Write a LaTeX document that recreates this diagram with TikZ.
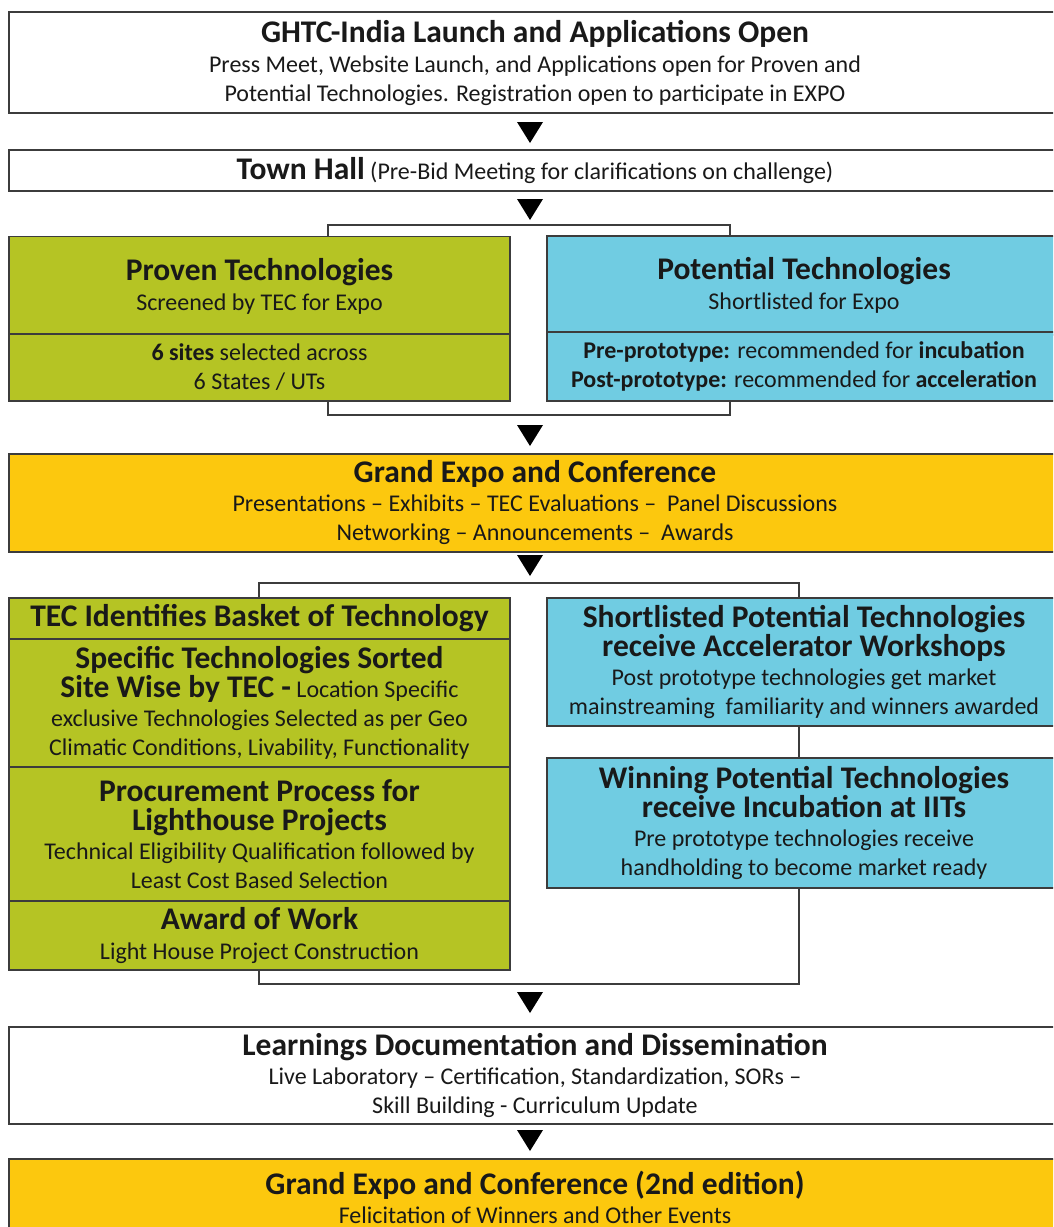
\documentclass[tikz,border=0pt]{standalone}
\usepackage{fontspec}
\setmainfont{Carlito}
\usetikzlibrary{positioning}

\definecolor{techgreen}{HTML}{B5C424}
\definecolor{techblue}{HTML}{70CCE2}
\definecolor{expogold}{HTML}{FCC80E}
\definecolor{edgegray}{HTML}{3C3C3C}

\newcommand{\headtext}[1]{{\fontsize{31.5}{29}\selectfont\bfseries #1}}
\newcommand{\bodysize}{\fontsize{24}{29}\selectfont}

\begin{document}
\begin{tikzpicture}[x=1pt, y=-1pt,
  stage/.style={draw=edgegray, line width=1.4pt, align=center, inner sep=0pt,
    font=\bodysize, text=black!90},
  wide/.style={stage, minimum width=1052pt},
  leftcol/.style={stage, fill=techgreen, minimum width=501pt},
  rightcol/.style={stage, fill=techblue, minimum width=514pt},
  bracket/.style={draw=edgegray, line width=1.2pt}]
 \useasboundingbox (0,0) rectangle (1053,1227);
 \clip (0,0) rectangle (1053,1227);

 % brackets behind the two columns
 \draw[bracket] (328,225) rectangle (730,415);
 \draw[bracket] (259,583) rectangle (799,984);

 % launch and town hall
 \node[wide, fill=white, minimum height=101pt] (launch) at (535,62.5)
  {\headtext{GHTC-India Launch and Applications Open}\\[1pt]
   Press Meet, Website Launch, and Applications open for Proven and\\
   Potential Technologies. Registration open to participate in EXPO};
 \node[wide, fill=white, minimum height=41pt] (townhall) at (535,170.5)
  {\headtext{Town Hall} (Pre-Bid Meeting for clarifications on challenge)};

 % first split
 \node[leftcol, minimum height=100pt] (proven) at (259.5,286.5)
  {\headtext{Proven Technologies}\\[1pt] Screened by TEC for Expo};
 \node[leftcol, minimum height=67pt] (sites) at (259.5,367.5)
  {\textbf{6 sites} selected across\\ 6 States / UTs};
 \node[rightcol, minimum height=99pt] (potential) at (804,285.5)
  {\headtext{Potential Technologies}\\[1pt] Shortlisted for Expo};
 \node[rightcol, minimum height=69pt] (stages) at (804,366.5)
  {\textbf{Pre-prototype:} recommended for \textbf{incubation}\\
   \textbf{Post-prototype:} recommended for \textbf{acceleration}};

 \node[wide, fill=expogold, minimum height=98pt] (expo) at (535,503)
  {\headtext{Grand Expo and Conference}\\
   Presentations -- Exhibits -- TEC Evaluations --\ \ Panel Discussions\\
   Networking -- Announcements --\ \ Awards};

 % second split
 \node[leftcol, minimum height=41pt] (basket) at (259.5,618.5)
  {\headtext{TEC Identifies Basket of Technology}};
 \node[leftcol, minimum height=128pt] (sorted) at (259.5,703)
  {\headtext{Specific Technologies Sorted}\\
   \headtext{Site Wise by TEC -} Location Specific\\
   exclusive Technologies Selected as per Geo\\
   Climatic Conditions, Livability, Functionality};
 \node[leftcol, minimum height=134pt] (procure) at (259.5,834)
  {\headtext{Procurement Process for}\\
   \headtext{Lighthouse Projects}\\
   Technical Eligibility Qualification followed by\\
   Least Cost Based Selection};
 \node[leftcol, minimum height=69pt] (award) at (259.5,935.5)
  {\headtext{Award of Work}\\[1pt] Light House Project Construction};
 \node[rightcol, minimum height=128pt] (accel) at (804,662)
  {\headtext{Shortlisted Potential Technologies}\\
   \headtext{receive Accelerator Workshops}\\
   Post prototype technologies get market\\
   mainstreaming\ \ familiarity and winners awarded};
 \node[rightcol, minimum height=130pt] (incub) at (804,823)
  {\headtext{Winning Potential Technologies}\\
   \headtext{receive Incubation at IITs}\\
   Pre prototype technologies receive\\
   handholding to become market ready};

 \node[wide, fill=white, minimum height=97pt] (learn) at (535,1075.5)
  {\headtext{Learnings Documentation and Dissemination}\\
   Live Laboratory -- Certification, Standardization, SORs --\\
   Skill Building - Curriculum Update};
 \node[wide, fill=expogold, minimum height=76pt] (expotwo) at (535,1197)
  {\headtext{Grand Expo and Conference (2nd edition)}\\
   Felicitation of Winners and Other Events};

 % flow markers
 \foreach \y in {122,199,425,555,992,1130}
  \fill (517,\y) -- ++(26,0) -- ++(-13,21) -- cycle;
\end{tikzpicture}
\end{document}
